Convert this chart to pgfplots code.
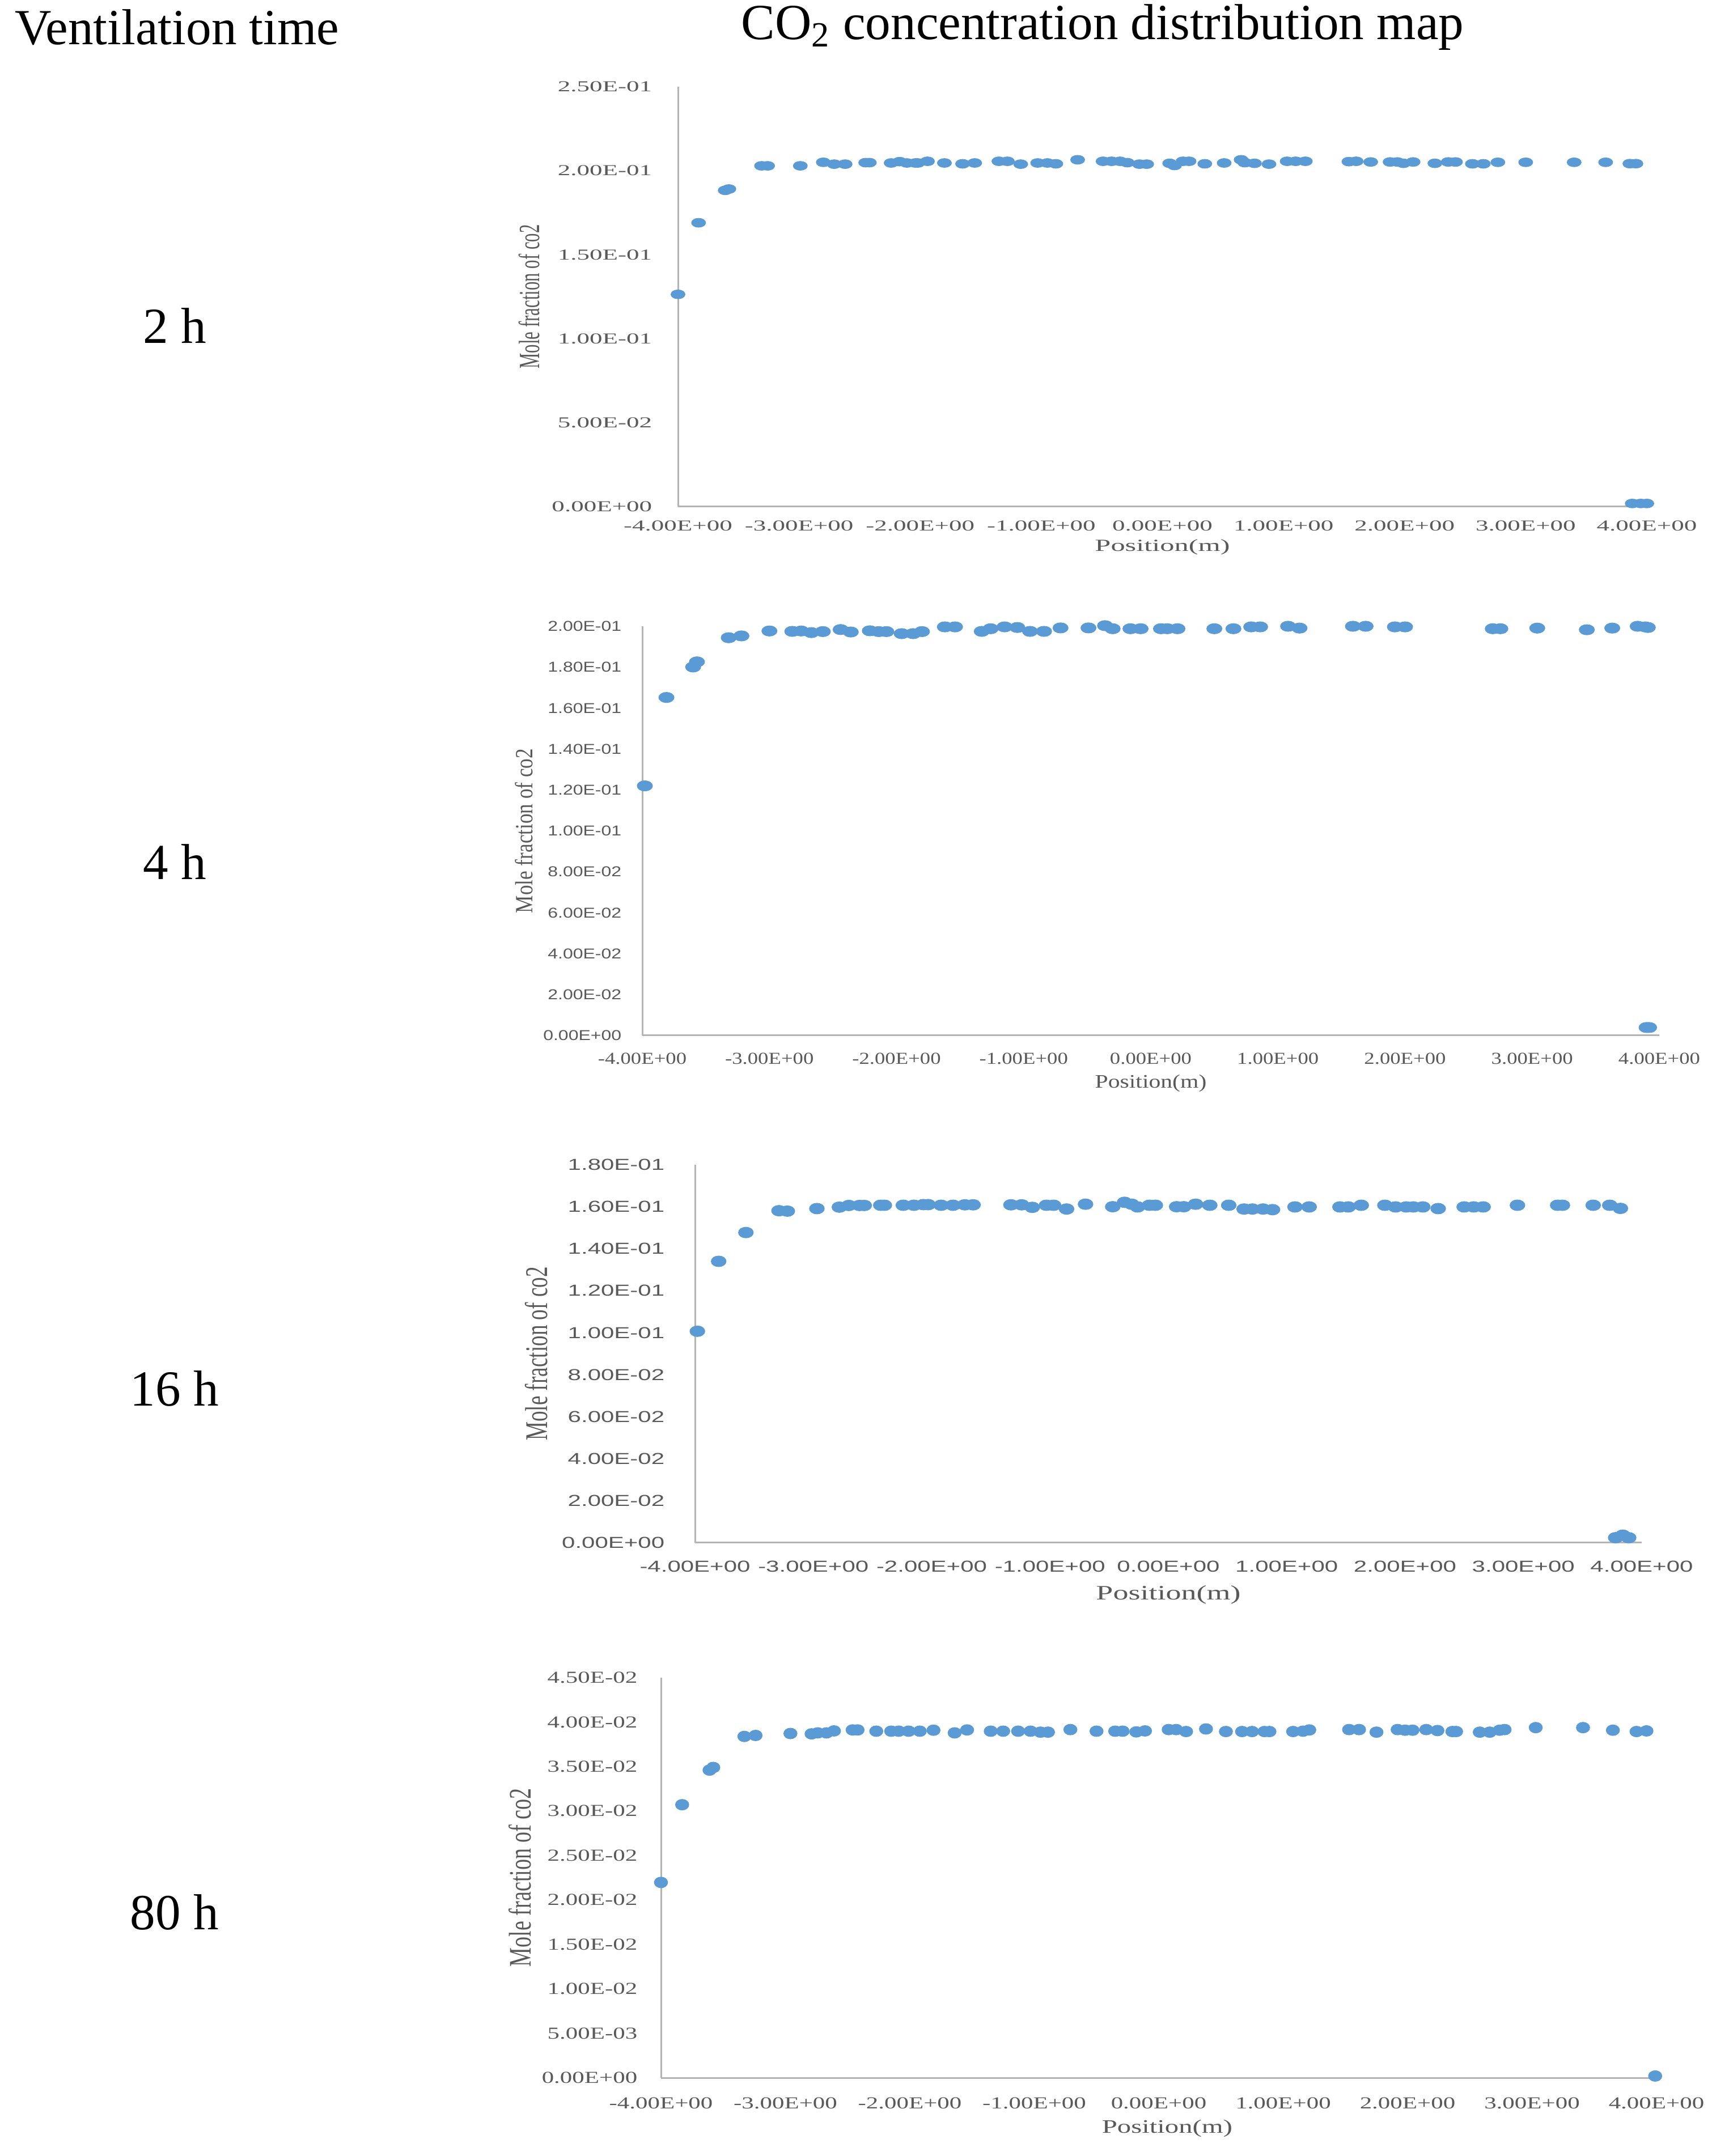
\documentclass[border=0pt]{standalone}
\usepackage{fontspec}
\setmainfont{Liberation Serif}
\usepackage{graphicx}
\usepackage{pgfplots}
\pgfplotsset{compat=1.18}
\definecolor{mblue}{RGB}{91,155,213}
\definecolor{agray}{RGB}{180,180,180}
\definecolor{tgray}{RGB}{89,89,89}
\newfontfamily\serifA[FakeStretch=1.68]{Liberation Serif}
\newfontfamily\serifB[FakeStretch=1.24]{Liberation Serif}
\newfontfamily\sansB[FakeStretch=1.27]{Liberation Sans}
\newfontfamily\sansC[FakeStretch=1.5]{Liberation Sans}
\newfontfamily\serifC[FakeStretch=1.5]{Liberation Serif}
\newfontfamily\serifD[FakeStretch=1.45]{Liberation Serif}
\pgfplotsset{panel/.style={
  scale only axis, anchor=south west,
  axis x line*=bottom, axis y line*=left,
  axis line style={-, draw=agray, line width=0.75pt},
  major tick length=0pt, tick style={draw=none},
  xmin=-4, xmax=4, ymin=0, enlargelimits=false, clip=false,
  scaled y ticks=false, scaled x ticks=false,
  xtick={-4,-3,-2,-1,0,1,2,3,4},
  xticklabels={-4.00E+00,-3.00E+00,-2.00E+00,-1.00E+00,0.00E+00,1.00E+00,2.00E+00,3.00E+00,4.00E+00},
  every tick label/.append style={text=tgray, inner sep=0pt},
  xticklabel style={anchor=north},
  yticklabel style={anchor=east},
  every axis label/.append style={text=tgray, inner sep=0pt},
  ylabel={Mole fraction of co2}, xlabel={Position(m)},
}}
\begin{document}
\begin{tikzpicture}
\useasboundingbox (0,0) rectangle (755pt,951pt);
\node[anchor=west, font=\fontsize{22.3}{26}\selectfont] at (3pt,939pt) {Ventilation time};
\node[anchor=center, font=\fontsize{22.3}{26}\selectfont] at (486.25pt,939pt) {CO\textsubscript{2} concentration distribution map};
\node[font=\fontsize{22.3}{26}\selectfont] at (77pt,807.25pt) {2 h};
\node[font=\fontsize{22.3}{26}\selectfont] at (77pt,570.75pt) {4 h};
\node[font=\fontsize{22.3}{26}\selectfont] at (77pt,338.5pt) {16 h};
\node[font=\fontsize{22.3}{26}\selectfont] at (77pt,107.5pt) {80 h};

% ---------- 2 h ----------
\begin{axis}[panel, at={(299pt,727.5pt)}, width=427.25pt, height=185.25pt, ymax=0.25,
  ytick={0,0.05,0.1,0.15,0.2,0.25},
  yticklabels={0.00E+00,5.00E-02,1.00E-01,1.50E-01,2.00E-01,2.50E-01},
  yticklabel style={font=\fontsize{6.7}{8}\serifA, xshift=-11.25pt},
  xticklabel style={font=\fontsize{6.7}{8}\serifA, yshift=-6pt},
  xlabel style={font=\fontsize{7.5}{9}\serifA, at={(axis description cs:0.5,-0.0958)}, anchor=center},
  ylabel style={font=\fontsize{7.7}{9}\selectfont, at={(axis description cs:-0.1533,0.5)}, anchor=center},
  ylabel={\scalebox{1}[1.68]{Mole fraction of co2}}]
\addplot[only marks, color=mblue, mark=*, mark size=1.9pt, mark options={fill=mblue, draw=mblue, xscale=1.6}] coordinates {
(-4.00,0.1264) (-3.83,0.169) (-3.61,0.1883) (-3.58,0.1891) (-3.31,0.2029) (-3.26,0.2029)
(-2.99,0.2029) (-2.80,0.2050) (-2.71,0.2039) (-2.62,0.2039) (-2.45,0.2048) (-2.42,0.2048)
(-2.24,0.2046) (-2.17,0.2054) (-2.11,0.2046) (-2.04,0.2046) (-2.02,0.2046) (-1.94,0.2056)
(-1.80,0.2046) (-1.65,0.2041) (-1.55,0.2046) (-1.35,0.2056) (-1.28,0.2056) (-1.17,0.2039)
(-1.03,0.2046) (-0.95,0.2046) (-0.88,0.2041) (-0.70,0.2065) (-0.49,0.2056) (-0.42,0.2056)
(-0.35,0.2056) (-0.29,0.2048) (-0.19,0.2039) (-0.13,0.2039) (0.06,0.2044) (0.10,0.2031)
(0.17,0.2056) (0.22,0.2056) (0.35,0.2041) (0.51,0.2046) (0.65,0.2065) (0.68,0.2048)
(0.76,0.2044) (0.88,0.2039) (1.03,0.2056) (1.10,0.2056) (1.18,0.2056) (1.54,0.2054)
(1.60,0.2056) (1.72,0.2052) (1.88,0.2052) (1.94,0.2052) (1.99,0.2044) (2.07,0.2052)
(2.25,0.2044) (2.36,0.2052) (2.42,0.2052) (2.56,0.2041) (2.65,0.2041) (2.77,0.2050)
(3.00,0.2050) (3.40,0.2050) (3.66,0.2050) (3.86,0.2042) (3.91,0.2042)
(3.88,0.0019) (3.95,0.0019) (4.00,0.0019)
};
\end{axis}

% ---------- 4 h ----------
\begin{axis}[panel, at={(283.25pt,494.25pt)}, width=448.5pt, height=180.5pt, ymax=0.2,
  ytick={0,0.02,0.04,0.06,0.08,0.1,0.12,0.14,0.16,0.18,0.2},
  yticklabels={0.00E+00,2.00E-02,4.00E-02,6.00E-02,8.00E-02,1.00E-01,1.20E-01,1.40E-01,1.60E-01,1.80E-01,2.00E-01},
  yticklabel style={font=\fontsize{6.3}{8}\sansB, xshift=-9pt},
  xticklabel style={font=\fontsize{7.4}{9}\serifB, yshift=-7.5pt},
  xlabel style={font=\fontsize{8.4}{10}\serifB, at={(axis description cs:0.5,-0.1163)}, anchor=center},
  ylabel style={font=\fontsize{8.8}{10}\selectfont, at={(axis description cs:-0.1165,0.5)}, anchor=center},
  ylabel={\scalebox{1}[1.24]{Mole fraction of co2}}]
\addplot[only marks, color=mblue, mark=*, mark size=2.2pt, mark options={fill=mblue, draw=mblue, xscale=1.5}] coordinates {
(-3.98,0.1220) (-3.81,0.1652) (-3.60,0.1801) (-3.57,0.1826) (-3.32,0.1944) (-3.22,0.1953)
(-3.00,0.1977) (-2.82,0.1975) (-2.75,0.1977) (-2.67,0.1969) (-2.58,0.1974) (-2.44,0.1984)
(-2.36,0.1972) (-2.21,0.1978) (-2.14,0.1974) (-2.08,0.1974) (-1.96,0.1964) (-1.87,0.1964)
(-1.80,0.1974) (-1.62,0.1997) (-1.54,0.1997) (-1.33,0.1975) (-1.26,0.1988) (-1.15,0.1997)
(-1.05,0.1994) (-0.95,0.1975) (-0.84,0.1975) (-0.71,0.1992) (-0.49,0.1992) (-0.36,0.2003)
(-0.30,0.1988) (-0.16,0.1988) (-0.08,0.1988) (0.08,0.1988) (0.13,0.1988) (0.21,0.1988)
(0.50,0.1988) (0.65,0.1988) (0.79,0.1997) (0.86,0.1997) (1.08,0.2000) (1.17,0.1991)
(1.59,0.2000) (1.69,0.2000) (1.92,0.1997) (2.00,0.1997) (2.69,0.1988) (2.75,0.1988)
(3.04,0.1991) (3.43,0.1983) (3.63,0.1991) (3.83,0.2000) (3.89,0.1997) (3.91,0.1994)
(3.90,0.0039) (3.92,0.0039)
};
\end{axis}

% ---------- 16 h ----------
\begin{axis}[panel, at={(306.5pt,270.5pt)}, width=417.5pt, height=166.75pt, ymax=0.18,
  ytick={0,0.02,0.04,0.06,0.08,0.1,0.12,0.14,0.16,0.18},
  yticklabels={0.00E+00,2.00E-02,4.00E-02,6.00E-02,8.00E-02,1.00E-01,1.20E-01,1.40E-01,1.60E-01,1.80E-01},
  yticklabel style={font=\fontsize{7}{8}\sansC, xshift=-13.25pt},
  xticklabel style={font=\fontsize{7}{8}\sansC, yshift=-7.75pt},
  xlabel style={font=\fontsize{9}{10}\serifC, at={(axis description cs:0.5,-0.1379)}, anchor=center},
  ylabel style={font=\fontsize{9.3}{10}\selectfont, at={(axis description cs:-0.1677,0.5)}, anchor=center},
  ylabel={\scalebox{1}[1.5]{Mole fraction of co2}}]
\addplot[only marks, color=mblue, mark=*, mark size=2.3pt, mark options={fill=mblue, draw=mblue, xscale=1.4}] coordinates {
(-3.98,0.1007) (-3.80,0.1340) (-3.57,0.1477) (-3.29,0.1581) (-3.22,0.1579) (-2.97,0.1591)
(-2.78,0.1598) (-2.70,0.1606) (-2.61,0.1606) (-2.57,0.1606) (-2.43,0.1607) (-2.40,0.1607)
(-2.24,0.1607) (-2.15,0.1607) (-2.07,0.1610) (-2.03,0.1610) (-1.92,0.1607) (-1.82,0.1607)
(-1.72,0.1609) (-1.65,0.1609) (-1.33,0.1609) (-1.24,0.1609) (-1.15,0.1597) (-1.03,0.1607)
(-0.97,0.1607) (-0.86,0.1589) (-0.70,0.1612) (-0.47,0.1600) (-0.37,0.1621) (-0.31,0.1612)
(-0.26,0.1599) (-0.16,0.1607) (-0.11,0.1607) (0.07,0.1600) (0.13,0.1600) (0.23,0.1612)
(0.35,0.1607) (0.51,0.1607) (0.64,0.1589) (0.71,0.1589) (0.80,0.1589) (0.88,0.1586)
(1.07,0.1599) (1.19,0.1599) (1.45,0.1599) (1.52,0.1599) (1.63,0.1607) (1.83,0.1607)
(1.92,0.1599) (2.01,0.1599) (2.07,0.1599) (2.15,0.1599) (2.28,0.1591) (2.50,0.1599)
(2.58,0.1599) (2.66,0.1599) (2.95,0.1607) (3.29,0.1607) (3.33,0.1607) (3.59,0.1607)
(3.73,0.1607) (3.82,0.1592)
(3.78,0.0024) (3.84,0.0036) (3.89,0.0024)
};
\end{axis}

% ---------- 80 h ----------
\begin{axis}[panel, at={(291.5pt,34.5pt)}, width=439pt, height=176.5pt, ymax=0.045,
  ytick={0,0.005,0.01,0.015,0.02,0.025,0.03,0.035,0.04,0.045},
  yticklabels={0.00E+00,5.00E-03,1.00E-02,1.50E-02,2.00E-02,2.50E-02,3.00E-02,3.50E-02,4.00E-02,4.50E-02},
  yticklabel style={font=\fontsize{7.4}{9}\serifD, xshift=-10.25pt},
  xticklabel style={font=\fontsize{7.4}{9}\serifD, yshift=-8.5pt},
  xlabel style={font=\fontsize{8.4}{10}\serifD, at={(axis description cs:0.5085,-0.1261)}, anchor=center},
  ylabel style={font=\fontsize{9.55}{11}\selectfont, at={(axis description cs:-0.1418,0.5)}, anchor=center},
  ylabel={\scalebox{1}[1.45]{Mole fraction of co2}}]
\addplot[only marks, color=mblue, mark=*, mark size=2.3pt, mark options={fill=mblue, draw=mblue, xscale=1.25}] coordinates {
(-4.00,0.02197) (-3.83,0.03071) (-3.61,0.03460) (-3.58,0.03490) (-3.33,0.03839) (-3.24,0.03850)
(-2.96,0.03872) (-2.79,0.03868) (-2.74,0.03879) (-2.67,0.03879) (-2.61,0.03901) (-2.46,0.03912)
(-2.42,0.03912) (-2.27,0.03898) (-2.15,0.03898) (-2.09,0.03898) (-2.01,0.03898) (-1.92,0.03898)
(-1.81,0.03909) (-1.64,0.03879) (-1.54,0.03912) (-1.35,0.03898) (-1.25,0.03898) (-1.13,0.03898)
(-1.03,0.03898) (-0.95,0.03887) (-0.89,0.03887) (-0.71,0.03916) (-0.50,0.03898) (-0.35,0.03898)
(-0.29,0.03898) (-0.18,0.03890) (-0.11,0.03901) (0.08,0.03916) (0.14,0.03916) (0.22,0.03894)
(0.38,0.03923) (0.54,0.03894) (0.67,0.03894) (0.75,0.03894) (0.85,0.03894) (0.89,0.03894)
(1.08,0.03894) (1.16,0.03898) (1.21,0.03912) (1.53,0.03916) (1.61,0.03916) (1.75,0.03887)
(1.92,0.03916) (1.98,0.03909) (2.04,0.03909) (2.15,0.03916) (2.24,0.03905) (2.36,0.03894)
(2.39,0.03894) (2.58,0.03887) (2.66,0.03887) (2.74,0.03909) (2.78,0.03916) (3.03,0.03938)
(3.41,0.03938) (3.65,0.03909) (3.84,0.03894) (3.92,0.03901)
(3.99,0.0002)
};
\end{axis}
\end{tikzpicture}
\end{document}
